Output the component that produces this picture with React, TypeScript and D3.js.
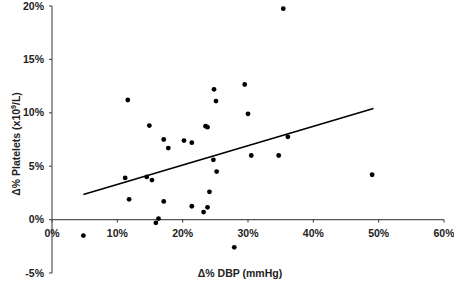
import React from "react";
import * as d3 from "d3";

const dbp = [4.8, 11.2, 11.6, 11.8, 14.5, 14.9, 15.3, 15.9, 16.3, 17.1, 17.1, 17.8, 20.2, 21.4, 21.4, 23.2, 23.5, 23.8, 23.8, 24.1, 24.7, 24.8, 25.1, 25.2, 27.9, 29.5, 30.0, 30.5, 34.7, 35.4, 36.1, 49.0];
const platelets = [-1.5, 3.9, 11.2, 1.9, 4.0, 8.8, 3.7, -0.3, 0.1, 7.5, 1.7, 6.7, 7.4, 7.2, 1.25, 0.7, 8.75, 8.65, 1.15, 2.6, 5.6, 12.2, 11.1, 4.5, -2.6, 12.65, 9.9, 6.0, 6.0, 19.75, 7.75, 4.2];
const trendX = [4.8, 49.2];
const trendY = [2.35, 10.4];
const xTicks = [0, 10, 20, 30, 40, 50, 60];
const yTicks = [-5, 0, 5, 10, 15, 20];

const W = 454;
const H = 283;

export default function App() {
  const x = d3.scaleLinear().domain([0, 60]).range([52, 444]);
  const y = d3.scaleLinear().domain([-5, 20]).range([273, 6]);
  const line = d3.line<number>().x((d) => x(trendX[d])).y((d) => y(trendY[d]));
  const font = "'Liberation Sans', Arial, sans-serif";
  const axisColor = "#555";
  return (
    <svg width={W} height={H} style={{ position: "absolute", left: 0, top: 0, background: "#fff" }} fontFamily={font}>
      {/* y axis */}
      <line x1={x(0)} x2={x(0)} y1={y(20)} y2={y(-5)} stroke={axisColor} strokeWidth={1.2} />
      {yTicks.map((t) => (
        <g key={"y" + t}>
          <line x1={x(0) - 3} x2={x(0)} y1={y(t)} y2={y(t)} stroke={axisColor} strokeWidth={1.2} />
          <text x={x(0) - 8} y={y(t)} dy="0.35em" textAnchor="end" fontSize={10.5} fontWeight="bold" fill="#222">
            {t + "%"}
          </text>
        </g>
      ))}
      {/* x axis */}
      <line x1={x(0)} x2={x(60)} y1={y(0)} y2={y(0)} stroke={axisColor} strokeWidth={1.2} />
      {xTicks.map((t) => (
        <g key={"x" + t}>
          <line x1={x(t)} x2={x(t)} y1={y(0)} y2={y(0) + 3} stroke={axisColor} strokeWidth={1.2} />
          <text x={x(t)} y={y(0) + 14} dy="0.35em" textAnchor="middle" fontSize={10.5} fontWeight="bold" fill="#222">
            {t + "%"}
          </text>
        </g>
      ))}
      {/* trend line */}
      <path d={line([0, 1]) || ""} fill="none" stroke="#000" strokeWidth={1.6} />
      {/* points */}
      {dbp.map((d, i) => (
        <circle key={i} cx={x(d)} cy={y(platelets[i])} r={2.4} fill="#000" />
      ))}
      {/* axis titles */}
      <text x={240} y={273} dy="0.35em" textAnchor="middle" fontSize={10.5} fontWeight="bold" fill="#222">
        Δ% DBP (mmHg)
      </text>
      <text transform={`translate(16,144) rotate(-90)`} dy="0.35em" textAnchor="middle" fontSize={10.5} fontWeight="bold" fill="#222">
        Δ% Platelets (x10<tspan fontSize={7} dy="-4">9</tspan><tspan dy="4">/L)</tspan>
      </text>
    </svg>
  );
}
